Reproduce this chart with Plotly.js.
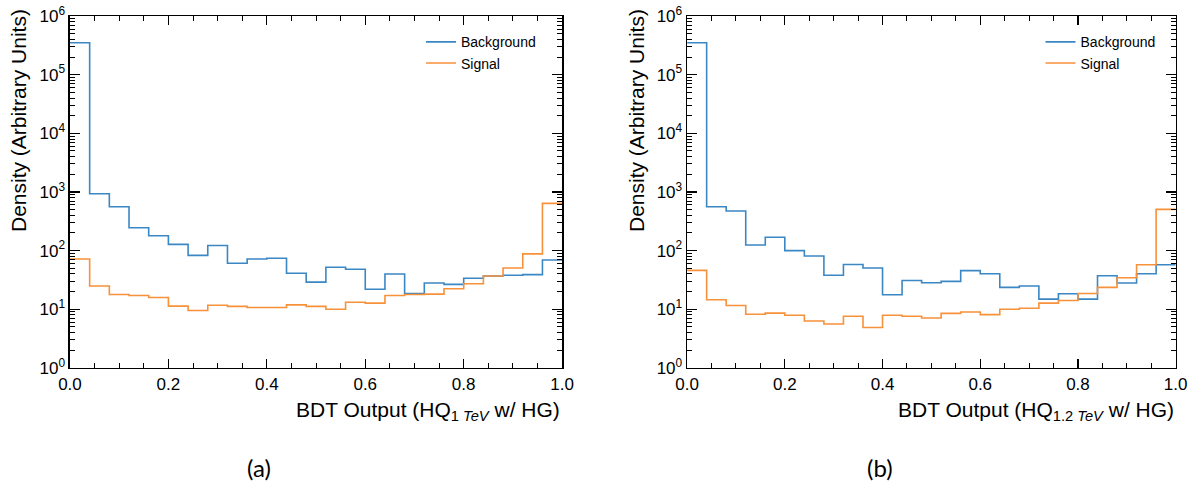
<!DOCTYPE html>
<html><head><meta charset="utf-8">
<script src="https://cdn.plot.ly/plotly-3.0.1.min.js"></script>
<style>body{margin:0;background:#fff}#plot{width:1196px;height:486px}</style>
</head><body><div id="plot"></div>
<script>
// Bin edges of BDT output
const binEdges = [0,0.04,0.08,0.12,0.16,0.20,0.24,0.28,0.32,0.36,0.40,0.44,0.48,0.52,0.56,0.60,0.64,0.68,0.72,0.76,0.80,0.84,0.88,0.92,0.96,1.0];
// Panel (a): HQ 1 TeV w/ HG
const bkgA = [350000,930,560,245,179,128,83,122,61,72,74,41,29,52,48,22,40,18.6,28,26.6,33.7,37,38,39,69];
const sigA = [72,24.9,17.9,17.2,15.9,11.3,9.5,11.7,11.2,10.7,10.7,11.9,11.2,10.0,13.2,12.7,17.2,17.9,18.1,22.4,27.2,36.9,50.6,88,640];
// Panel (b): HQ 1.2 TeV w/ HG
const bkgB = [350000,560,473,125,169,100,81,38,58,50.6,17.7,31,28.3,29.9,45.5,40.4,23.6,24.9,14.9,18.4,14.9,37.3,28,40.4,57.5];
const sigB = [46,14.5,11.6,8.2,8.6,7.9,6.3,5.6,7.6,4.9,7.9,7.6,7.1,8.5,9.0,8.1,10,10.4,12.7,14.1,18.6,23.6,34.5,57.5,505];
const seriesNames = ['Background','Signal'];
const yTickVals = [1,10,100,1000,10000,100000,1000000];
const yTickText = ['10<sup>0</sup>','10<sup>1</sup>','10<sup>2</sup>','10<sup>3</sup>','10<sup>4</sup>','10<sup>5</sup>','10<sup>6</sup>'];
const xTickVals = [0,0.2,0.4,0.6,0.8,1.0];
const xTickText = ['0.0','0.2','0.4','0.6','0.8','1.0'];
const xTitles = ['BDT Output (HQ<sub>1 <i>TeV</i></sub> w/ HG)','BDT Output (HQ<sub>1.2 <i>TeV</i></sub> w/ HG)'];
const captions = ['(a)','(b)'];

const blue = '#3b87c3', orange = '#f7913a';
function stepY(v){ return v.concat([v[v.length-1]]); }
function tr(vals, name, color, xa, ya, leg, show){
  return {x: binEdges, y: stepY(vals), type:'scatter', mode:'lines', line:{shape:'hv', color:color, width:1.6},
    name:name, xaxis:xa, yaxis:ya, legend:leg, showlegend:show};
}
const data = [
  tr(bkgA, seriesNames[0], blue, 'x','y','legend',true),
  tr(sigA, seriesNames[1], orange, 'x','y','legend',true),
  tr(bkgB, seriesNames[0], blue, 'x2','y2','legend2',true),
  tr(sigB, seriesNames[1], orange, 'x2','y2','legend2',true)
];
const minorY = [];
for (let e=0;e<6;e++) for (let d=2; d<10; d++) minorY.push(d*Math.pow(10,e));
const minorX = [];
for (let i=0;i<=20;i++) minorX.push(i*0.05);

const font = {family:'Liberation Sans, Arial, sans-serif', color:'#000'};
function xax(dom){ return {domain:dom, range:[0,1], tickmode:'array', tickvals:xTickVals, ticktext:xTickText,
  ticks:'inside', ticklen:9, tickwidth:1.2, tickcolor:'#000', showline:true, linecolor:'#000', linewidth:1.5, mirror:'allticks',
  showgrid:false, zeroline:false, tickfont:Object.assign({size:17},font),
  minor:{tickmode:'array', tickvals:minorX, ticks:'inside', ticklen:5, tickwidth:1, tickcolor:'#000', showgrid:false}}; }
function yax(anchor){ return {type:'log', domain:[0.243,0.967], range:[0,6], anchor:anchor, tickmode:'array', tickvals:yTickVals, ticktext:yTickText,
  ticks:'inside', ticklen:10, tickwidth:1.2, tickcolor:'#000', showline:true, linecolor:'#000', linewidth:1.5, mirror:'allticks',
  showgrid:false, zeroline:false, tickfont:Object.assign({size:17},font),
  minor:{tickmode:'array', tickvals:minorY, ticks:'inside', ticklen:5, tickwidth:1, tickcolor:'#000', showgrid:false}}; }

const legFont = Object.assign({size:14},font);
const layout = {
  width:1196, height:486, margin:{l:0,r:0,t:0,b:0}, paper_bgcolor:'#fff', plot_bgcolor:'#fff',
  xaxis: Object.assign(xax([0.0585,0.47]),{anchor:'y'}),
  yaxis: yax('x'),
  xaxis2: Object.assign(xax([0.5745,0.983]),{anchor:'y2'}),
  yaxis2: yax('x2'),
  legend:{x:0.352,y:0.946,xref:'paper',yref:'paper',xanchor:'left',yanchor:'top',bgcolor:'rgba(0,0,0,0)',font:legFont,tracegroupgap:0,itemwidth:30},
  legend2:{x:0.870,y:0.946,xref:'paper',yref:'paper',xanchor:'left',yanchor:'top',bgcolor:'rgba(0,0,0,0)',font:legFont,tracegroupgap:0,itemwidth:30},
  annotations:[
    {text:xTitles[0], xref:'x domain', yref:'paper', x:1, y:1-411/486, xanchor:'right', yanchor:'middle', showarrow:false, font:Object.assign({size:21},font)},
    {text:xTitles[1], xref:'x2 domain', yref:'paper', x:1, y:1-411/486, xanchor:'right', yanchor:'middle', showarrow:false, font:Object.assign({size:21},font)},
    {text:'Density (Arbitrary Units)', xref:'paper', yref:'paper', x:5/1196, y:1-7/486, xanchor:'left', yanchor:'top', textangle:-90, showarrow:false, font:Object.assign({size:21},font)},
    {text:'Density (Arbitrary Units)', xref:'paper', yref:'paper', x:623/1196, y:1-7/486, xanchor:'left', yanchor:'top', textangle:-90, showarrow:false, font:Object.assign({size:21},font)},
    {text:captions[0], xref:'paper', yref:'paper', x:259/1196, y:1-467/486, xanchor:'center', yanchor:'middle', showarrow:false, font:{family:'Lato, sans-serif', size:24, color:'#000'}},
    {text:captions[1], xref:'paper', yref:'paper', x:880/1196, y:1-467/486, xanchor:'center', yanchor:'middle', showarrow:false, font:{family:'Lato, sans-serif', size:24, color:'#000'}}
  ]
};
Plotly.newPlot('plot', data, layout, {displayModeBar:false, staticPlot:true});
</script></body></html>
